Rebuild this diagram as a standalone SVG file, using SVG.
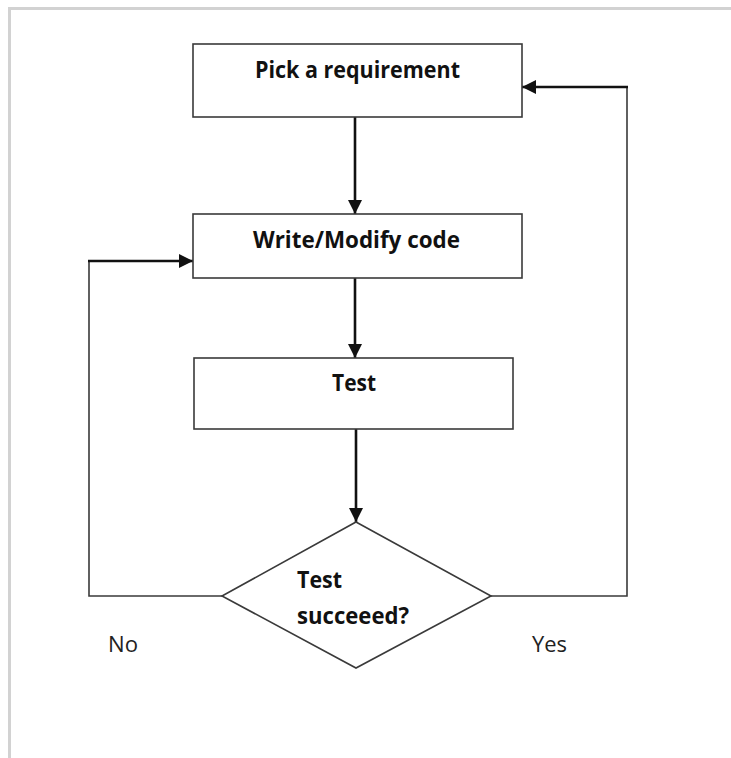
<svg xmlns="http://www.w3.org/2000/svg" width="731" height="758" viewBox="0 0 731 758">
<style>
.box{fill:#fff;stroke:#3a3a3a;stroke-width:1.6}
.thin{fill:none;stroke:#3a3a3a;stroke-width:1.6}
.flow{fill:none;stroke:#111;stroke-width:2.6}
.lbl{font-family:"Open Sans","Liberation Sans",sans-serif;font-weight:bold;font-size:22.5px;fill:#111}
.side{font-family:"Open Sans","Liberation Sans",sans-serif;font-size:22px;fill:#222}
</style>
<defs>
<marker id="ah" markerUnits="userSpaceOnUse" markerWidth="14" markerHeight="14" refX="14" refY="7" orient="auto">
<path d="M0,0 L14,7 L0,14 z" fill="#111"/>
</marker>
</defs>
<rect width="731" height="758" fill="#fff"/>
<path d="M9.5,758 V8.5 H731" fill="none" stroke="#d2d2d2" stroke-width="3"/>
<g id="connectors">
<path class="flow" d="M355,117 V214" marker-end="url(#ah)"/>
<path class="flow" d="M355,278 V358" marker-end="url(#ah)"/>
<path class="flow" d="M356,429 V522" marker-end="url(#ah)"/>
<path class="thin" d="M222,596 H89 V261"/>
<path class="flow" d="M88,261 H193" marker-end="url(#ah)"/>
<path class="thin" d="M491,596 H627 V87"/>
<path class="flow" d="M628,87 H522" marker-end="url(#ah)"/>
</g>
<g id="pick">
<rect class="box" x="193" y="44" width="329" height="73"/>
<text class="lbl" x="255" y="77.5" textLength="205" lengthAdjust="spacingAndGlyphs">Pick a requirement</text>
</g>
<g id="write">
<rect class="box" x="193" y="214" width="329" height="64"/>
<text class="lbl" x="253" y="247.5" textLength="207" lengthAdjust="spacingAndGlyphs">Write/Modify code</text>
</g>
<g id="test">
<rect class="box" x="194" y="358" width="319" height="71"/>
<text class="lbl" x="332" y="391" textLength="44" lengthAdjust="spacingAndGlyphs">Test</text>
</g>
<g id="decision">
<polygon class="box" points="356,522 491,596 356,668 222,596"/>
<text class="lbl" x="297" y="587.5" textLength="45" lengthAdjust="spacingAndGlyphs">Test</text>
<text class="lbl" x="297" y="624" textLength="112" lengthAdjust="spacingAndGlyphs">succeeed?</text>
</g>
<g id="labels">
<text class="side" x="108" y="652" textLength="30" lengthAdjust="spacingAndGlyphs">No</text>
<text class="side" x="532" y="652" textLength="35" lengthAdjust="spacingAndGlyphs">Yes</text>
</g>
</svg>
